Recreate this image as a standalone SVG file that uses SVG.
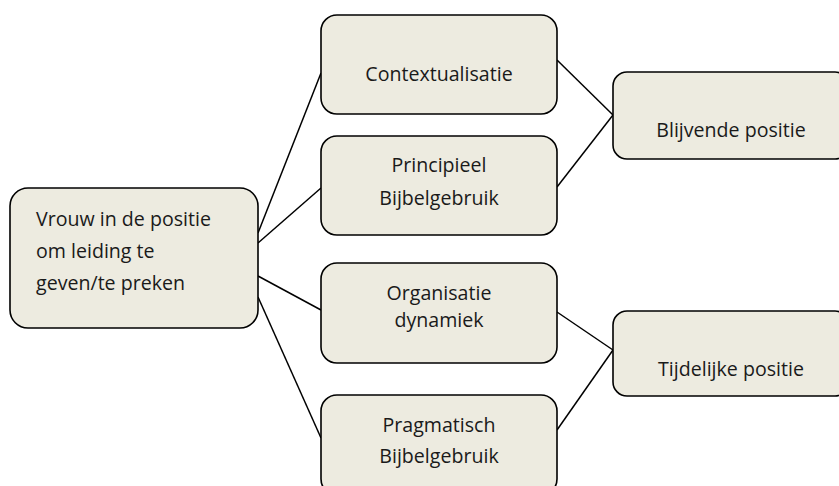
<svg xmlns="http://www.w3.org/2000/svg" width="839" height="486" viewBox="0 0 839 486">
<style>
.box{fill:#edebe0;stroke:#000;stroke-width:1.6}
.t{font-family:"Open Sans","Noto Sans","DejaVu Sans",sans-serif;font-size:19.6px;fill:#1a1a1a}
.c{text-anchor:middle}
.ln{stroke:#000;stroke-width:1.5;fill:none}
</style>
<rect width="839" height="486" fill="#fff"/>
<g id="connectors">
<line class="ln" x1="258" y1="233" x2="321" y2="73"/>
<line class="ln" x1="258" y1="243" x2="321" y2="188"/>
<line class="ln" x1="258" y1="276" x2="321" y2="310"/>
<line class="ln" x1="258" y1="297" x2="321" y2="438"/>
<line class="ln" x1="557" y1="60" x2="613" y2="115"/>
<line class="ln" x1="557" y1="187" x2="613" y2="115"/>
<line class="ln" x1="557" y1="312" x2="613" y2="350"/>
<line class="ln" x1="557" y1="430" x2="613" y2="350"/>
</g>
<g id="root">
<rect class="box" x="10" y="188" width="248" height="140" rx="18"/>
<text class="t" x="36" y="226">Vrouw in de positie</text>
<text class="t" x="36" y="258">om leiding te</text>
<text class="t" x="36" y="290">geven/te preken</text>
</g>
<g id="contextualisatie">
<rect class="box" x="321" y="15" width="236" height="99" rx="16"/>
<text class="t c" x="439" y="81">Contextualisatie</text>
</g>
<g id="principieel">
<rect class="box" x="321" y="136" width="236" height="99" rx="16"/>
<text class="t c" x="439" y="172">Principieel</text>
<text class="t c" x="439" y="205">Bijbelgebruik</text>
</g>
<g id="organisatie">
<rect class="box" x="321" y="263" width="236" height="100" rx="16"/>
<text class="t c" x="439" y="300">Organisatie</text>
<text class="t c" x="439" y="327">dynamiek</text>
</g>
<g id="pragmatisch">
<rect class="box" x="321" y="395" width="236" height="100" rx="16"/>
<text class="t c" x="439" y="432">Pragmatisch</text>
<text class="t c" x="439" y="463">Bijbelgebruik</text>
</g>
<g id="blijvende">
<rect class="box" x="613" y="72" width="236" height="87" rx="14"/>
<text class="t c" x="731" y="137">Blijvende positie</text>
</g>
<g id="tijdelijke">
<rect class="box" x="613" y="311" width="236" height="85" rx="14"/>
<text class="t c" x="731" y="376">Tijdelijke positie</text>
</g>
</svg>
